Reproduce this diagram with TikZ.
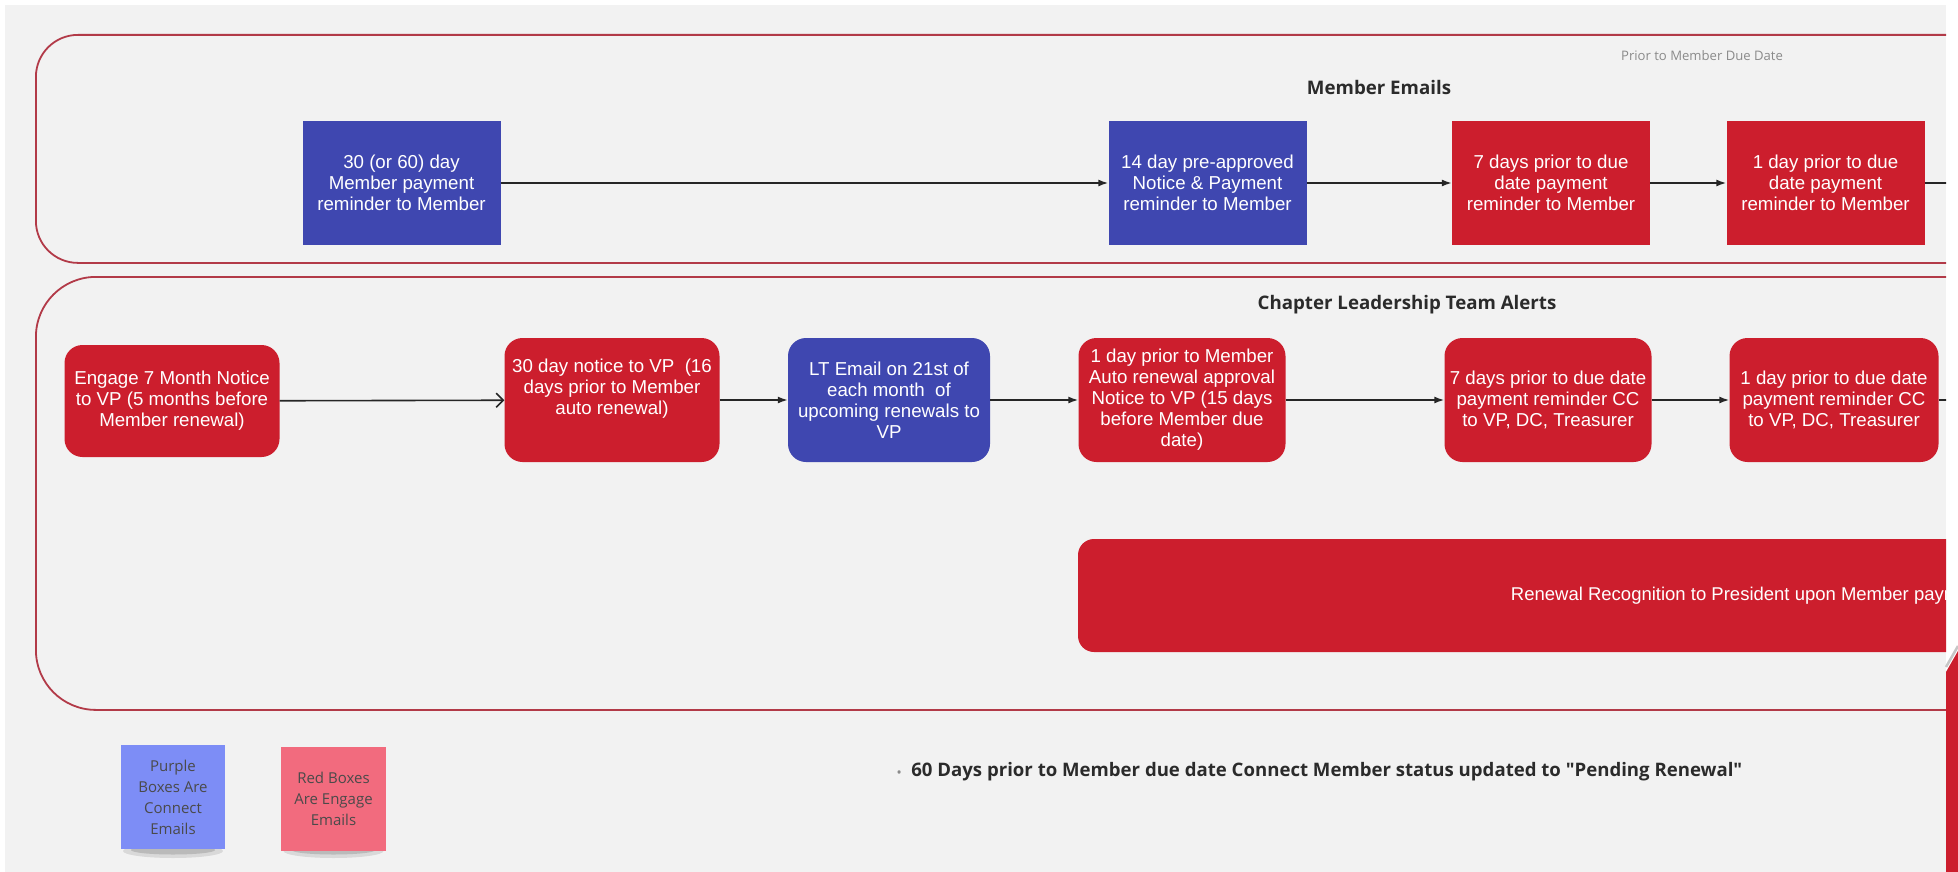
\documentclass[tikz,border=0pt]{standalone}
\usepackage{fontspec}
\setmainfont{Liberation Sans}
\newfontfamily\opensans{Open Sans}
\usetikzlibrary{arrows.meta}

\definecolor{canvas}{HTML}{F2F2F2}
\definecolor{lanered}{HTML}{B23A48}
\definecolor{connectblue}{HTML}{3F47B0}
\definecolor{engagered}{HTML}{CC1E2D}
\definecolor{flowline}{HTML}{262626}
\definecolor{notepurple}{HTML}{7D8DF6}
\definecolor{notered}{HTML}{F26B7E}
\definecolor{notetext}{HTML}{4A4A4A}
\definecolor{headtext}{HTML}{2B2B2B}
\definecolor{softgray}{HTML}{8A8A8A}

\tikzset{
  lane/.style={draw=lanered, line width=1.8pt, fill=none, inner sep=0pt},
  stepbox/.style={text=white, align=center, inner sep=0pt,
                  font=\fontsize{18.7}{21}\selectfont},
  sqbox/.style={stepbox, minimum width=198pt, minimum height=124pt},
  rbox/.style={stepbox, rounded corners=18pt, minimum height=124pt},
  connect/.style={fill=connectblue},
  engage/.style={fill=engagered},
  flow/.style={draw=flowline, line width=1.6pt, -{Latex[length=10pt,width=7pt]}},
  openflow/.style={draw=flowline, line width=1.6pt, -{Straight Barb[length=7pt,width=14pt]}},
  plainflow/.style={draw=flowline, line width=1.6pt},
  heading/.style={font=\opensans\bfseries\fontsize{18.7}{22}\selectfont, text=headtext},
  sticky/.style={minimum width=104pt, minimum height=104pt, inner sep=0pt,
                 align=center, text=notetext, font=\opensans\fontsize{15}{21}\selectfont},
}

\begin{document}
\begin{tikzpicture}[x=1pt,y=-1pt]
\useasboundingbox (0,0) rectangle (1958,872);
\fill[white] (0,0) rectangle (1958,872);
\fill[canvas] (5,5) rectangle (1946,872);

\begin{scope}
\clip (0,0) rectangle (1946,872);

% swimlanes
\node[lane, rounded corners=42pt, minimum width=2100pt, minimum height=228pt,
      anchor=north west] (memberlane) at (35,34) {};
\node[lane, rounded corners=60pt, minimum width=2100pt, minimum height=433pt,
      anchor=north west] (leaderlane) at (35,276) {};

% lane titles
\node[font=\opensans\fontsize{13.1}{16}\selectfont, text=softgray] (duedate) at (1702,56) {Prior to Member Due Date};
\node[heading] (membertitle) at (1379,87) {Member Emails};
\node[heading] (leadertitle) at (1407,305) {Chapter Leadership Team Alerts};

% member emails
\node[sqbox, connect] (m30) at (401.5,183) {30 (or 60) day\\Member payment\\reminder to Member};
\node[sqbox, connect] (m14) at (1207.5,183) {14 day pre-approved\\Notice \& Payment\\reminder to Member};
\node[sqbox, engage] (m7) at (1551,183) {7 days prior to due\\date payment\\reminder to Member};
\node[sqbox, engage] (m1) at (1825.5,183) {1 day prior to due\\date payment\\reminder to Member};
\coordinate (mout) at (2000,183);

\draw[flow] (m30) -- (m14);
\draw[flow] (m14) -- (m7);
\draw[flow] (m7) -- (m1);
\draw[plainflow] (m1) -- (mout);

% leadership alerts
\node[rbox, engage, minimum width=215pt, minimum height=112pt] (l7m) at (172,401)
  {Engage 7 Month Notice\\to VP (5 months before\\Member renewal)};
\node[rbox, engage, minimum width=215pt] (l30) at (612,400)
  {30 day notice to VP\ \ (16\\days prior to Member\\auto renewal)\\\strut};
\node[rbox, connect, minimum width=202pt] (llt) at (889,400)
  {LT Email on 21st of\\each month\ \ of\\upcoming renewals to\\VP};
\node[rbox, engage, minimum width=207pt] (l1a) at (1182,400)
  {1 day prior to Member\\Auto renewal approval\\Notice to VP (15 days\\before Member due\\date)};
\node[rbox, engage, minimum width=207pt] (l7d) at (1548,400)
  {7 days prior to due date\\payment reminder CC\\to VP, DC, Treasurer};
\node[rbox, engage, minimum width=209pt] (l1d) at (1834,400)
  {1 day prior to due date\\payment reminder CC\\to VP, DC, Treasurer};
\coordinate (lout) at (2000,400);

\draw[openflow] (l7m) -- (l30);
\draw[flow] (l30) -- (llt);
\draw[flow] (llt) -- (l1a);
\draw[flow] (l1a) -- (l7d);
\draw[flow] (l7d) -- (l1d);
\draw[plainflow] (l1d) -- (lout);

\node[stepbox, engage, rounded corners=16pt, minimum width=1340pt, minimum height=113pt,
      font=\fontsize{18.5}{22}\selectfont] (recog) at (1748,595.5)
  {Renewal Recognition to President upon Member payment};
\end{scope}

% legend notes with soft shadows
\foreach \cx in {173,333.5}{
  \fill[black, opacity=0.10] (\cx,851) ellipse (50pt and 7pt);
  \fill[black, opacity=0.14] (\cx,850) ellipse (42pt and 4.5pt);
}
\node[sticky, fill=notepurple] (notepurple) at (173,797) {Purple\\Boxes Are\\Connect\\Emails};
\node[sticky, fill=notered, minimum width=105pt] (notered) at (333.5,798.5) {Red Boxes\\Are Engage\\Emails};

% status note
\node[anchor=west, inner sep=0pt, font=\opensans\bfseries\fontsize{18.6}{22}\selectfont, text=headtext] (status) at (897,772)
  {{\color{softgray}\fontsize{11}{12}\selectfont\textbullet}\hspace{10pt}60 Days prior to Member due date Connect Member status updated to "Pending Renewal"};

% corner accent
\fill[engagered] (1946,672) -- (1958,651) -- (1958,872) -- (1946,872) -- cycle;
\draw[gray!45, line width=2.5pt] (1946,667) -- (1958,646);
\end{tikzpicture}
\end{document}
